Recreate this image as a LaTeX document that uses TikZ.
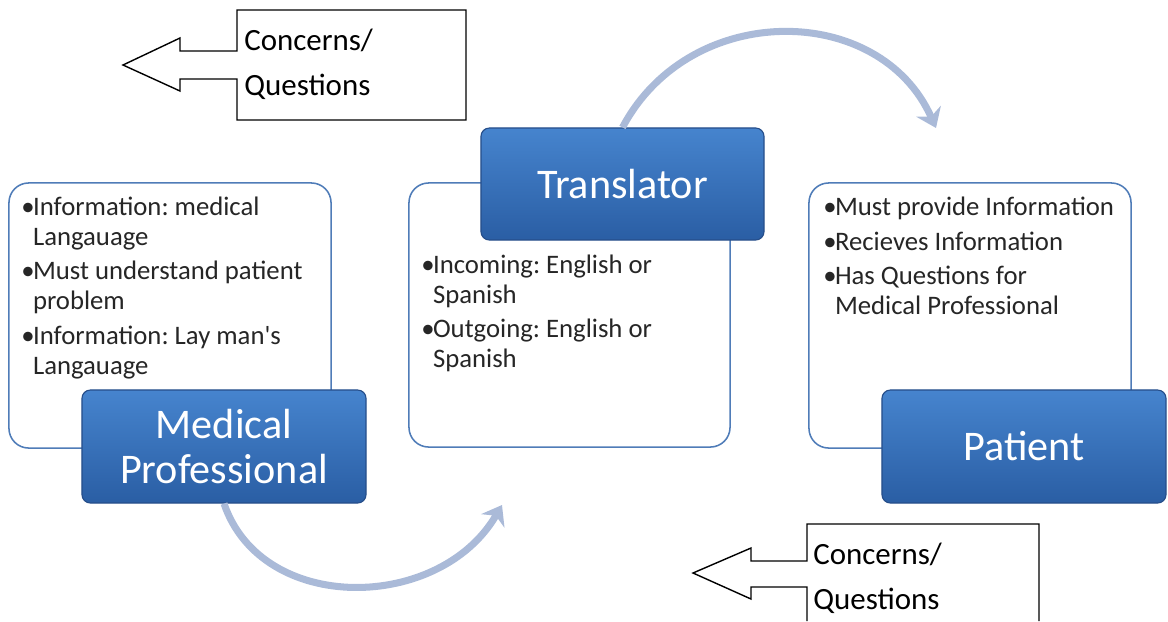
\documentclass[tikz,border=0pt]{standalone}
\usepackage{fontspec}
\setmainfont{Carlito}
\usetikzlibrary{arrows.meta}
\definecolor{panelline}{RGB}{79,124,184}
\definecolor{boxtop}{RGB}{70,132,206}
\definecolor{boxbot}{RGB}{42,94,164}
\definecolor{boxline}{RGB}{38,78,138}
\definecolor{flowcol}{RGB}{170,186,216}
\newcommand{\bul}{\makebox[0.44em][l]{•}}
\newcommand{\ind}{\hspace*{0.44em}}
\frenchspacing
\begin{document}
\begin{tikzpicture}[x=0.025cm,y=-0.025cm,
    panel/.style={draw=panelline,line width=1.1pt,fill=white,rounded corners=14pt,inner sep=0pt},
    bluebox/.style={draw=boxline,line width=0.8pt,top color=boxtop,bottom color=boxbot,
      rounded corners=6pt,text=white,align=center,inner sep=0pt,
      font=\fontsize{30}{32}\selectfont},
    txt/.style={align=left,inner sep=0pt,anchor=north west,text=black!85,
      font=\fontsize{19}{21.3}\selectfont},
    cq/.style={align=left,inner sep=0pt,anchor=west,font=\fontsize{22}{32}\selectfont},
    flow/.style={line width=5pt,draw=flowcol,-{Stealth[length=13pt,width=19pt]}}]
    \useasboundingbox (0,0) rectangle (1168,621);
    % panels
    \node[panel,minimum width=8.05cm,minimum height=6.625cm] (medpanel) at (170,315.5) {};
    \node[panel,minimum width=8.025cm,minimum height=6.6cm] (transpanel) at (569.5,315) {};
    \node[panel,minimum width=8.05cm,minimum height=6.625cm] (patpanel) at (970,315.5) {};
    \node[txt] (medtext) at (21,197) {\bul Information: medical\\ \ind Langauage\\[3pt]
      \bul Must understand patient\\ \ind problem\\[3pt]
      \bul Information: Lay man\textquotesingle s\\ \ind Langauage};
    \node[txt] (transtext) at (421,255) {\bul Incoming: English or\\ \ind Spanish\\[3pt]
      \bul Outgoing: English or\\ \ind Spanish};
    \node[txt] (pattext) at (823,197) {\bul Must provide Information\\[3pt]
      \bul Recieves Information\\[3pt]
      \bul Has Questions for\\ \ind Medical Professional};
    % arcs
    \coordinate (toptip) at (936,128);
    \coordinate (bottip) at (502,505);
    % blue boxes
    \node[bluebox,minimum width=7.075cm,minimum height=2.8cm] (trans) at (622.5,184) {Translator};
    \node[bluebox,minimum width=7.1cm,minimum height=2.825cm] (med) at (224,446.5) {Medical\\Professional};
    \node[bluebox,minimum width=7.1cm,minimum height=2.825cm] (pat) at (1024,446.5) {Patient};
    \draw[flow] (trans.north) .. controls (690,0) and (880,2) .. (toptip);
    \draw[flow] (med.south) .. controls (262,615) and (440,612) .. (bottip);
    % callouts
    \draw[line width=1pt] (237,10) -- (466,10) -- (466,120) -- (237,120) -- (237,79) -- (180,79)
      -- (180,91) -- (123,65) -- (180,38) -- (180,51) -- (237,51) -- cycle;
    \node[cq] (cqtop) at (244,64) {Concerns/\\Questions};
    \draw[line width=1pt] (807,621) -- (807,587) -- (751,587) -- (751,599) -- (693,573)
      -- (751,548) -- (751,561) -- (807,561) -- (807,524) -- (1039,524) -- (1039,621);
    \node[cq] (cqbot) at (813,578) {Concerns/\\Questions};
\end{tikzpicture}
\end{document}
